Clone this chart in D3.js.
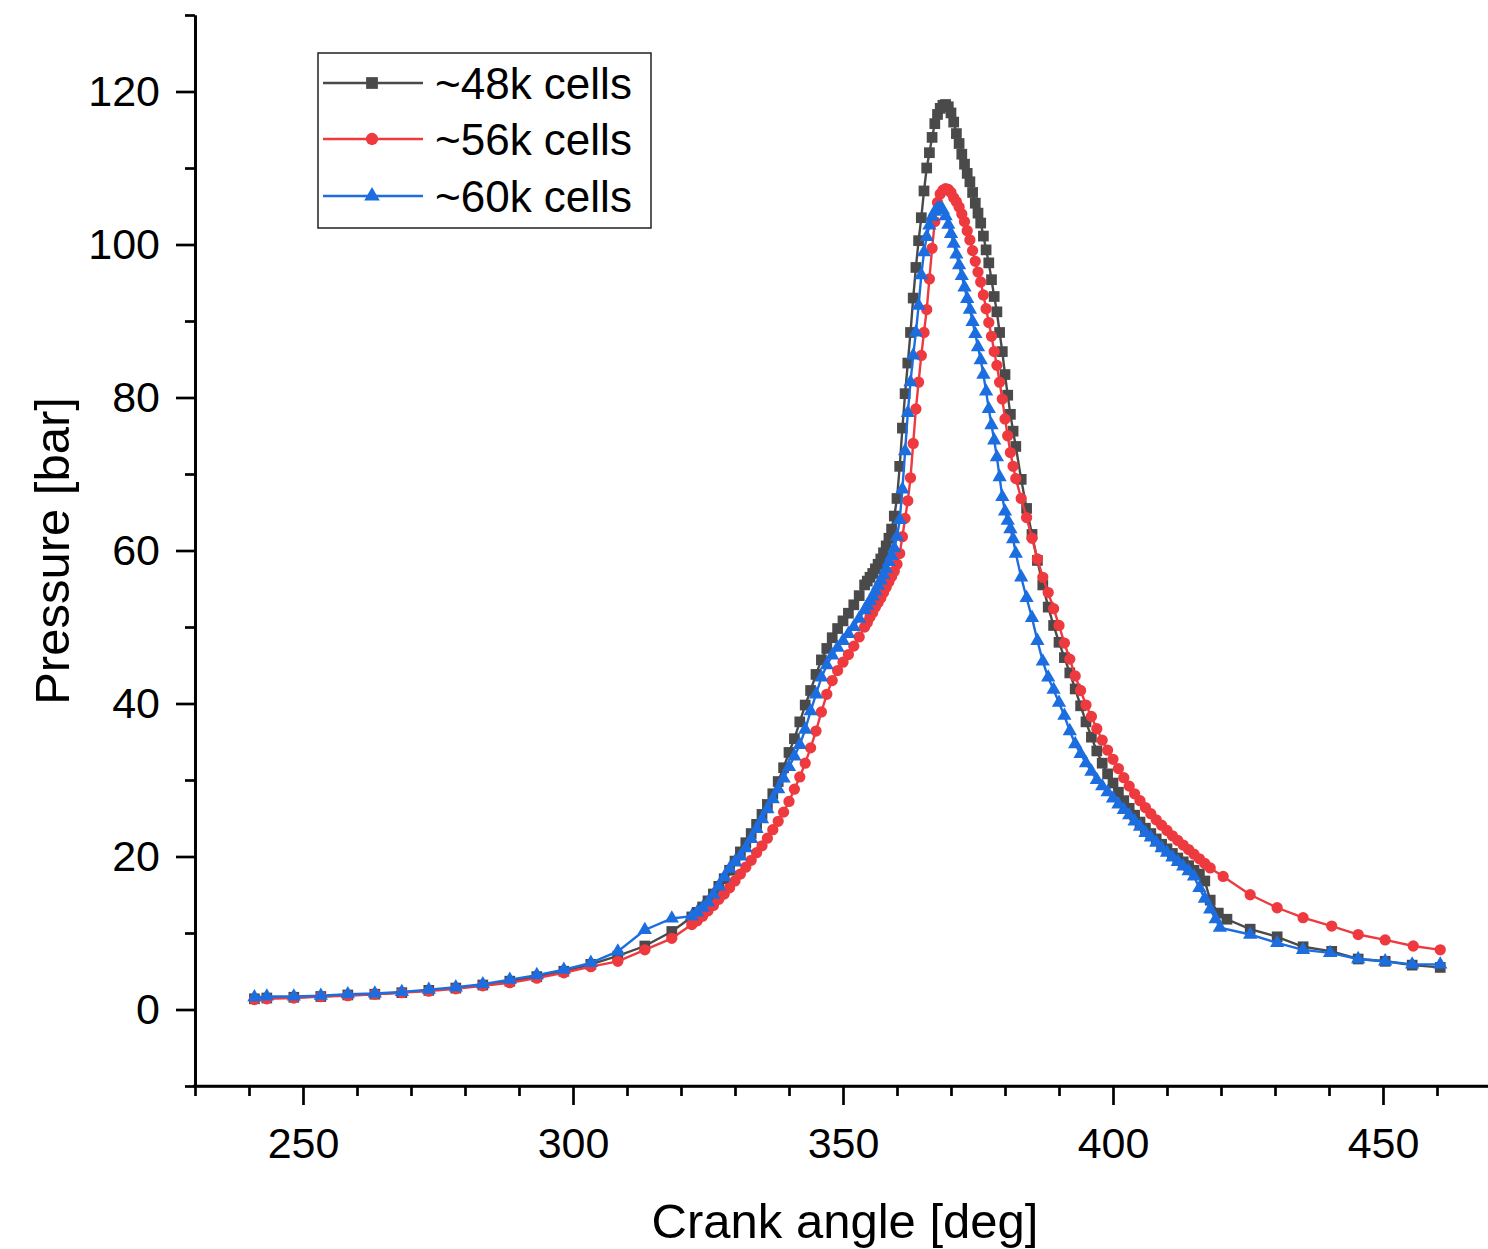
<!DOCTYPE html>
<html><head><meta charset="utf-8">
<script src="https://cdn.jsdelivr.net/npm/d3@7"></script>
<style>
body{margin:0;background:#fff}
svg{display:block;background:#fff}
text{font-family:"Liberation Sans",Arial,sans-serif;fill:#000}
</style>
</head><body>
<svg id="c" width="1488" height="1249"></svg>
<script>
// ---------- data ----------
const seriesNames = ["~48k cells", "~56k cells", "~60k cells"];
const seriesColors = ["#4a4a4a", "#ee3a3f", "#1c6ee0"];

const xMajorTicks = [250, 300, 350, 400, 450];
const xMinorTicks = [230,240,260,270,280,290,310,320,330,340,360,370,380,390,410,420,430,440,460,470];
const yMajorTicks = [0, 20, 40, 60, 80, 100, 120];
const yMinorTicks = [-10, 10, 30, 50, 70, 90, 110, 130];

const sparseAngles = [241,243.3,248.3,253.3,258.3,263.3,268.3,273.3,278.3,283.3,288.3,293.3,298.3,303.3,308.3,313.3,318.3];
const denseAngles = [322,323,324,325,326,327,328,329,330,331,332,333,334,335,336,337,338,339,340,341,342,343,344,345,346,347,348,349,350,351,352,353,354,
  354.5,355,355.5,356,356.5,357,357.5,358,358.5,359,359.5,360,360.5,361,361.5,362,362.5,363,363.5,364,364.5,365,365.5,366,366.5,367,367.5,368,368.5,369,
  369.5,370,370.5,371,371.5,372,372.5,373,373.5,374,374.5,375,375.5,376,376.5,377,377.5,378,378.5,379,379.5,380,380.5,381,381.5,382,
  383,384,385,386,387,388,389,390,391,392,393,394,395,396,397,398,399,400,401,402,403,404,405,406,407,408,409,410,411,412,413,414,415,416,417,418];

const tailAngles48 = [419.5,421.1,425.4,430.4,435.2,440.5,445.4,450.4,455.4,460.6];
const tailAngles56 = [420.4,425.4,430.4,435.2,440.5,445.4,450.4,455.6,460.6];
const tailAngles60 = [419,419.8,425.4,430.4,435.2,440.2,445.4,450.4,455.4,460.6];

const p48 = [
  1.4,1.5,1.6,1.7,1.9,2.0,2.2,2.5,2.8,3.2,3.7,4.3,5.0,5.9,7.0,8.3,10.2,
  12.1,12.7,13.4,14.2,15.1,16.1,17.1,18.2,19.4,20.6,21.8,23.0,24.2,25.5,26.8,28.2,29.8,31.6,33.6,35.4,37.6,39.8,41.7,43.8,45.7,47.2,48.6,49.8,50.8,51.8,52.9,54.1,55.5,
  56.0,56.5,57.0,57.6,58.2,58.9,59.7,60.6,61.6,62.8,64.5,66.8,71,76,80.5,84.5,88.5,93,97,100.5,103.5,107,110,112,114,115.8,117,117.8,118.2,118.3,
  118,117.2,116,114.5,113.2,111.8,110.5,109.3,108.2,106.8,105.4,104.1,102.8,101.1,99.3,97.6,95.4,93.2,91.2,88.5,86,83,80.3,77.8,75.6,73.6,
  69.3,65.5,62.1,58.7,55.5,52.6,50.2,48.0,46.0,44.0,41.9,39.7,37.6,35.6,33.8,32.2,30.8,29.6,28.4,27.3,26.3,25.4,24.5,23.7,23.0,22.3,21.6,21.0,20.4,19.8,19.3,18.8,18.2,17.7,16.8,14.3,
  12.6,11.8,10.5,9.5,8.2,7.6,6.6,6.3,5.8,5.5];

const p56 = [
  1.3,1.4,1.5,1.7,1.8,2.0,2.2,2.4,2.7,3.1,3.5,4.1,4.8,5.6,6.3,7.8,9.3,
  11.1,11.6,12.2,12.9,13.6,14.4,15.1,15.9,16.8,17.7,18.6,19.5,20.5,21.4,22.4,23.5,24.6,25.8,27.2,28.8,30.4,32.2,34.2,36.4,38.9,41.2,43.0,44.3,45.4,46.4,47.5,48.7,50.0,
  50.6,51.3,51.9,52.6,53.2,53.8,54.5,55.2,55.9,56.6,57.3,58.2,59.6,61.8,64.2,66.5,69.5,74.0,78.5,82.0,85.5,88.5,91.5,95.5,99.5,103.0,105.5,106.6,107.1,107.3,
  107.2,106.8,106.1,105.6,104.9,104.0,103.0,101.8,100.6,99.2,97.8,96.4,95.1,93.4,91.6,89.8,88.0,86.0,84.2,82.0,79.8,77.2,75.0,72.8,71.0,69.4,
  66.8,64.3,61.6,58.9,56.5,54.5,52.4,50.2,47.9,45.8,43.6,41.7,39.8,38.3,36.7,35.2,33.9,32.7,31.5,30.3,29.2,28.2,27.3,26.4,25.6,24.8,24.1,23.4,22.7,22.1,21.5,20.9,20.3,19.7,19.1,18.5,
  17.4,15.0,13.3,12.0,10.9,9.8,9.1,8.3,7.8];

const p60 = [
  1.6,1.7,1.7,1.8,2.0,2.1,2.3,2.6,2.9,3.3,3.9,4.5,5.2,6.1,7.6,10.4,11.9,
  12.2,12.7,13.3,14.0,15.0,16.1,17.3,18.4,19.3,20.0,21.1,22.3,23.6,24.9,26.2,27.5,28.8,30.2,31.7,33.1,34.6,36.6,39.0,41.2,43.4,45.0,46.3,47.3,48.2,49.1,50.0,51.1,52.2,
  52.8,53.4,54.0,54.7,55.4,56.1,56.8,57.6,58.5,59.3,60.3,61.8,64.0,68.0,73.0,78.0,82.0,85.5,88.5,92.0,96.0,99.0,101.0,102.5,103.6,104.3,104.7,104.8,104.5,103.7,
  102.6,101.4,100.1,98.7,97.3,95.9,94.4,92.9,91.5,89.9,88.3,86.6,84.9,83.0,80.8,78.5,76.4,74.4,72.2,69.6,67.0,65.1,63.9,62.8,61.5,59.6,
  56.5,53.8,51.2,48.2,45.5,43.4,41.8,40.1,38.4,36.4,34.7,33.4,32.2,31.1,30.0,29.2,28.4,27.6,26.8,26.1,25.4,24.6,23.9,23.1,22.5,21.8,21.1,20.5,19.9,19.3,18.7,18.1,17.4,15.9,14.5,13.1,
  11.8,10.7,9.8,8.7,7.8,7.4,6.6,6.3,5.9,5.9];

const angles48 = sparseAngles.concat(denseAngles, tailAngles48);
const angles56 = sparseAngles.concat(denseAngles, tailAngles56);
const angles60 = sparseAngles.concat(denseAngles, tailAngles60);

const series = [
  {name: seriesNames[0], color: seriesColors[0], sym: d3.symbolSquare, size: 115, pts: angles48.map((a,i)=>[a,p48[i]])},
  {name: seriesNames[1], color: seriesColors[1], sym: d3.symbolCircle, size: 100, pts: angles56.map((a,i)=>[a,p56[i]])},
  {name: seriesNames[2], color: seriesColors[2], sym: d3.symbolTriangle, size: 88, pts: angles60.map((a,i)=>[a,p60[i]])}
];

// ---------- drawing ----------
const svg = d3.select("#c");
svg.append("rect").attr("width",1488).attr("height",1249).attr("fill","#fff");

const x = d3.scaleLinear().domain([230,470]).range([195,1491]);
const y = d3.scaleLinear().domain([-10,130]).range([1086,15]);

const axW = 2.7;
const tickFont = 43;

const gxm = svg.append("g").attr("transform","translate(0,1086)")
  .call(d3.axisBottom(x).tickValues(xMinorTicks).tickSize(10).tickSizeOuter(0).tickFormat(""));
const gx = svg.append("g").attr("transform","translate(0,1086)")
  .call(d3.axisBottom(x).tickValues(xMajorTicks).tickSize(19).tickSizeOuter(0).tickPadding(22).tickFormat(d3.format("d")));
const gym = svg.append("g").attr("transform","translate(195,0)")
  .call(d3.axisLeft(y).tickValues(yMinorTicks).tickSize(10).tickSizeOuter(0).tickFormat(""));
const gy = svg.append("g").attr("transform","translate(195,0)")
  .call(d3.axisLeft(y).tickValues(yMajorTicks).tickSize(19).tickSizeOuter(0).tickPadding(16).tickFormat(d3.format("d")));

[gxm,gx,gym,gy].forEach(g=>{
  g.selectAll(".domain").attr("stroke","#000").attr("stroke-width",axW);
  g.selectAll(".tick line").attr("stroke","#000").attr("stroke-width",axW);
  g.selectAll(".tick text").attr("font-family","Liberation Sans, Arial, sans-serif").attr("font-size",tickFont).attr("fill","#000");
});
gx.select(".domain").attr("d","M193,0H1491");

// axis titles
svg.append("text").attr("x",845).attr("y",1238).attr("text-anchor","middle")
  .attr("font-size",49).text("Crank angle [deg]");
svg.append("text").attr("transform","translate(69,551) rotate(-90)").attr("text-anchor","middle")
  .attr("font-size",49).text("Pressure [bar]");

// series
const line = d3.line().x(d=>x(d[0])).y(d=>y(d[1]));
series.forEach(s=>{
  const g = svg.append("g");
  g.append("path").attr("d", line(s.pts)).attr("fill","none").attr("stroke", s.color).attr("stroke-width",2.4);
  g.selectAll("path.m").data(s.pts).enter().append("path").attr("class","m")
    .attr("transform", d=>`translate(${x(d[0])},${y(d[1])})`)
    .attr("d", d3.symbol().type(s.sym).size(s.size)())
    .attr("fill", s.color);
});

// legend
const lg = svg.append("g");
lg.append("rect").attr("x",318).attr("y",53).attr("width",333).attr("height",175)
  .attr("fill","#fff").attr("stroke","#222").attr("stroke-width",1.5);
const rowY = [83, 139, 196];
series.forEach((s,i)=>{
  lg.append("line").attr("x1",323).attr("x2",423).attr("y1",rowY[i]).attr("y2",rowY[i])
    .attr("stroke", s.color).attr("stroke-width",2.5);
  lg.append("path").attr("transform",`translate(372,${rowY[i]})`)
    .attr("d", d3.symbol().type(s.sym).size(s.size*1.2)()).attr("fill", s.color);
  lg.append("text").attr("x",435).attr("y",rowY[i]+16).attr("font-size",44).text(s.name);
});
</script>
</body></html>
